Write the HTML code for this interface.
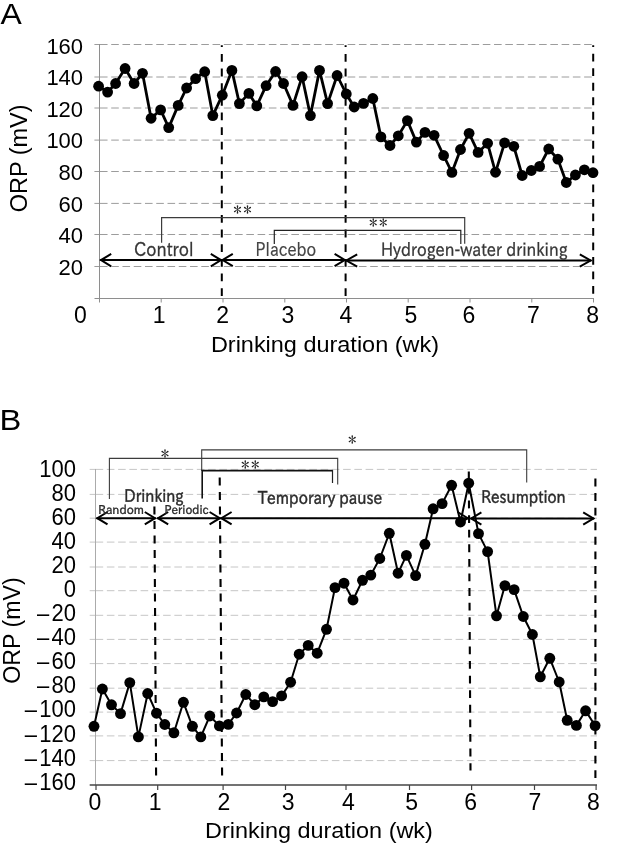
<!DOCTYPE html>
<html lang="en"><head><meta charset="utf-8"><title>ORP vs drinking duration</title>
<style>html,body{margin:0;padding:0;background:#fff}svg{display:block;filter:grayscale(1)}text{white-space:pre}</style></head><body>
<svg width="619" height="843" viewBox="0 0 619 843">
<rect width="619" height="843" fill="#fff"/>
<g id="chartA">
<path d="M94.4,44.5 H100" stroke="#9c9c9c" stroke-width="1" fill="none"/>
<path d="M99.95,44.5 H591.8" stroke="#9c9c9c" stroke-width="1" stroke-dasharray="7.6 3.66" fill="none"/>
<path d="M94.4,77.0 H100" stroke="#9c9c9c" stroke-width="1" fill="none"/>
<path d="M99.95,77.0 H591.8" stroke="#9c9c9c" stroke-width="1" stroke-dasharray="7.6 3.66" fill="none"/>
<path d="M94.4,108.0 H100" stroke="#9c9c9c" stroke-width="1" fill="none"/>
<path d="M99.95,108.0 H591.8" stroke="#9c9c9c" stroke-width="1" stroke-dasharray="7.6 3.66" fill="none"/>
<path d="M94.4,140.1 H100" stroke="#9c9c9c" stroke-width="1" fill="none"/>
<path d="M99.95,140.1 H591.8" stroke="#9c9c9c" stroke-width="1" stroke-dasharray="7.6 3.66" fill="none"/>
<path d="M94.4,171.5 H100" stroke="#9c9c9c" stroke-width="1" fill="none"/>
<path d="M99.95,171.5 H591.8" stroke="#9c9c9c" stroke-width="1" stroke-dasharray="7.6 3.66" fill="none"/>
<path d="M94.4,203.4 H100" stroke="#9c9c9c" stroke-width="1" fill="none"/>
<path d="M99.95,203.4 H591.8" stroke="#9c9c9c" stroke-width="1" stroke-dasharray="7.6 3.66" fill="none"/>
<path d="M94.4,234.5 H100" stroke="#9c9c9c" stroke-width="1" fill="none"/>
<path d="M99.95,234.5 H591.8" stroke="#9c9c9c" stroke-width="1" stroke-dasharray="7.6 3.66" fill="none"/>
<path d="M94.4,266.5 H100" stroke="#9c9c9c" stroke-width="1" fill="none"/>
<path d="M99.95,266.5 H591.8" stroke="#9c9c9c" stroke-width="1" stroke-dasharray="7.6 3.66" fill="none"/>
<path d="M99.5,44 V298.5" stroke="#8e8e8e" stroke-width="1" fill="none"/>
<path d="M94.5,298.5 H594" stroke="#8e8e8e" stroke-width="1" fill="none"/>
<path d="M99.5,298.5 v4" stroke="#8e8e8e" stroke-width="1" fill="none"/>
<path d="M161.2,298.5 v4" stroke="#8e8e8e" stroke-width="1" fill="none"/>
<path d="M223.0,298.5 v4" stroke="#8e8e8e" stroke-width="1" fill="none"/>
<path d="M284.8,298.5 v4" stroke="#8e8e8e" stroke-width="1" fill="none"/>
<path d="M346.5,298.5 v4" stroke="#8e8e8e" stroke-width="1" fill="none"/>
<path d="M408.2,298.5 v4" stroke="#8e8e8e" stroke-width="1" fill="none"/>
<path d="M470.0,298.5 v4" stroke="#8e8e8e" stroke-width="1" fill="none"/>
<path d="M531.8,298.5 v4" stroke="#8e8e8e" stroke-width="1" fill="none"/>
<path d="M593.5,298.5 v4" stroke="#8e8e8e" stroke-width="1" fill="none"/>
<text class="l" x="83.1" y="53.5" font-size="22.3" text-anchor="end" font-family="Liberation Sans, Arial, sans-serif" fill="#000" textLength="36.7" lengthAdjust="spacingAndGlyphs">160</text>
<text class="l" x="83.1" y="85.1" font-size="22.3" text-anchor="end" font-family="Liberation Sans, Arial, sans-serif" fill="#000" textLength="36.7" lengthAdjust="spacingAndGlyphs">140</text>
<text class="l" x="83.1" y="116.7" font-size="22.3" text-anchor="end" font-family="Liberation Sans, Arial, sans-serif" fill="#000" textLength="36.7" lengthAdjust="spacingAndGlyphs">120</text>
<text class="l" x="83.1" y="148.3" font-size="22.3" text-anchor="end" font-family="Liberation Sans, Arial, sans-serif" fill="#000" textLength="36.7" lengthAdjust="spacingAndGlyphs">100</text>
<text class="l" x="83.1" y="179.9" font-size="22.3" text-anchor="end" font-family="Liberation Sans, Arial, sans-serif" fill="#000" textLength="24.5" lengthAdjust="spacingAndGlyphs">80</text>
<text class="l" x="83.1" y="211.5" font-size="22.3" text-anchor="end" font-family="Liberation Sans, Arial, sans-serif" fill="#000" textLength="24.5" lengthAdjust="spacingAndGlyphs">60</text>
<text class="l" x="83.1" y="243.1" font-size="22.3" text-anchor="end" font-family="Liberation Sans, Arial, sans-serif" fill="#000" textLength="24.5" lengthAdjust="spacingAndGlyphs">40</text>
<text class="l" x="83.1" y="274.7" font-size="22.3" text-anchor="end" font-family="Liberation Sans, Arial, sans-serif" fill="#000" textLength="24.5" lengthAdjust="spacingAndGlyphs">20</text>
<text class="l" x="80.4" y="323.3" font-size="23" text-anchor="middle" font-family="Liberation Sans, Arial, sans-serif" fill="#000" >0</text>
<text class="l" x="159.2" y="323.3" font-size="23" text-anchor="middle" font-family="Liberation Sans, Arial, sans-serif" fill="#000" >1</text>
<text class="l" x="222.6" y="323.3" font-size="23" text-anchor="middle" font-family="Liberation Sans, Arial, sans-serif" fill="#000" >2</text>
<text class="l" x="287.9" y="323.3" font-size="23" text-anchor="middle" font-family="Liberation Sans, Arial, sans-serif" fill="#000" >3</text>
<text class="l" x="345.8" y="323.3" font-size="23" text-anchor="middle" font-family="Liberation Sans, Arial, sans-serif" fill="#000" >4</text>
<text class="l" x="410.9" y="323.3" font-size="23" text-anchor="middle" font-family="Liberation Sans, Arial, sans-serif" fill="#000" >5</text>
<text class="l" x="468.8" y="323.3" font-size="23" text-anchor="middle" font-family="Liberation Sans, Arial, sans-serif" fill="#000" >6</text>
<text class="l" x="533.3" y="323.3" font-size="23" text-anchor="middle" font-family="Liberation Sans, Arial, sans-serif" fill="#000" >7</text>
<text class="l" x="592.6" y="323.3" font-size="23" text-anchor="middle" font-family="Liberation Sans, Arial, sans-serif" fill="#000" >8</text>
<text class="l" x="210.9" y="351.8" font-size="22" text-anchor="start" font-family="Liberation Sans, Arial, sans-serif" fill="#000" textLength="228.1" lengthAdjust="spacingAndGlyphs">Drinking duration (wk)</text>
<text class="l" transform="translate(27.2,158.4) rotate(-90)" font-size="23.5" text-anchor="middle" font-family="Liberation Sans, Arial, sans-serif" fill="#000" textLength="107.8" lengthAdjust="spacingAndGlyphs">ORP (mV)</text>
<text class="l" x="0.4" y="23.55" font-size="29.6" text-anchor="start" font-family="Liberation Sans, Arial, sans-serif" fill="#000" textLength="21.3" lengthAdjust="spacingAndGlyphs">A</text>
<path d="M221.8,45.2 L221.8,296.2" stroke="#000" stroke-width="2" stroke-dasharray="7.8 6.84" stroke-dashoffset="5.9" fill="none"/>
<path d="M345.6,45.2 L345.6,296.2" stroke="#000" stroke-width="2" stroke-dasharray="7.8 6.84" stroke-dashoffset="5.9" fill="none"/>
<path d="M593.2,45.2 L593.2,294.2" stroke="#000" stroke-width="2" stroke-dasharray="7.8 6.71" stroke-dashoffset="5.9" fill="none"/>
<path d="M98.6,86.2 L107.6,92.1 L115.6,83.5 L125.1,68.5 L134.1,83.5 L142.5,73.3 L151.1,118.3 L160.6,109.9 L168.7,127.6 L178.2,105.4 L186.6,88.0 L195.6,78.7 L204.7,71.7 L212.8,115.6 L222.3,95.2 L231.9,70.4 L239.4,103.6 L248.9,93.4 L256.8,105.9 L266.1,85.7 L275.6,71.5 L283.5,83.5 L293.0,105.4 L302.1,76.7 L310.4,115.6 L319.5,70.4 L327.6,103.6 L337.1,75.5 L346.3,94.0 L354.2,107.0 L363.5,103.4 L372.8,98.5 L380.9,136.9 L390.0,145.5 L398.3,135.8 L407.4,120.6 L416.4,142.1 L425.0,132.4 L434.1,135.3 L443.6,155.5 L451.9,172.4 L460.5,149.5 L469.1,133.3 L478.1,152.4 L487.6,143.3 L495.5,172.3 L504.6,142.9 L513.8,146.3 L522.2,175.5 L531.3,170.5 L539.6,166.4 L548.7,149.0 L557.9,159.2 L566.3,182.5 L575.4,175.0 L584.4,169.8 L593.0,172.7" fill="none" stroke="#000" stroke-width="2.8" stroke-linejoin="round"/>
<g fill="#000"><circle cx="98.6" cy="86.2" r="5.4"/><circle cx="107.6" cy="92.1" r="5.4"/><circle cx="115.6" cy="83.5" r="5.4"/><circle cx="125.1" cy="68.5" r="5.4"/><circle cx="134.1" cy="83.5" r="5.4"/><circle cx="142.5" cy="73.3" r="5.4"/><circle cx="151.1" cy="118.3" r="5.4"/><circle cx="160.6" cy="109.9" r="5.4"/><circle cx="168.7" cy="127.6" r="5.4"/><circle cx="178.2" cy="105.4" r="5.4"/><circle cx="186.6" cy="88.0" r="5.4"/><circle cx="195.6" cy="78.7" r="5.4"/><circle cx="204.7" cy="71.7" r="5.4"/><circle cx="212.8" cy="115.6" r="5.4"/><circle cx="222.3" cy="95.2" r="5.4"/><circle cx="231.9" cy="70.4" r="5.4"/><circle cx="239.4" cy="103.6" r="5.4"/><circle cx="248.9" cy="93.4" r="5.4"/><circle cx="256.8" cy="105.9" r="5.4"/><circle cx="266.1" cy="85.7" r="5.4"/><circle cx="275.6" cy="71.5" r="5.4"/><circle cx="283.5" cy="83.5" r="5.4"/><circle cx="293.0" cy="105.4" r="5.4"/><circle cx="302.1" cy="76.7" r="5.4"/><circle cx="310.4" cy="115.6" r="5.4"/><circle cx="319.5" cy="70.4" r="5.4"/><circle cx="327.6" cy="103.6" r="5.4"/><circle cx="337.1" cy="75.5" r="5.4"/><circle cx="346.3" cy="94.0" r="5.4"/><circle cx="354.2" cy="107.0" r="5.4"/><circle cx="363.5" cy="103.4" r="5.4"/><circle cx="372.8" cy="98.5" r="5.4"/><circle cx="380.9" cy="136.9" r="5.4"/><circle cx="390.0" cy="145.5" r="5.4"/><circle cx="398.3" cy="135.8" r="5.4"/><circle cx="407.4" cy="120.6" r="5.4"/><circle cx="416.4" cy="142.1" r="5.4"/><circle cx="425.0" cy="132.4" r="5.4"/><circle cx="434.1" cy="135.3" r="5.4"/><circle cx="443.6" cy="155.5" r="5.4"/><circle cx="451.9" cy="172.4" r="5.4"/><circle cx="460.5" cy="149.5" r="5.4"/><circle cx="469.1" cy="133.3" r="5.4"/><circle cx="478.1" cy="152.4" r="5.4"/><circle cx="487.6" cy="143.3" r="5.4"/><circle cx="495.5" cy="172.3" r="5.4"/><circle cx="504.6" cy="142.9" r="5.4"/><circle cx="513.8" cy="146.3" r="5.4"/><circle cx="522.2" cy="175.5" r="5.4"/><circle cx="531.3" cy="170.5" r="5.4"/><circle cx="539.6" cy="166.4" r="5.4"/><circle cx="548.7" cy="149.0" r="5.4"/><circle cx="557.9" cy="159.2" r="5.4"/><circle cx="566.3" cy="182.5" r="5.4"/><circle cx="575.4" cy="175.0" r="5.4"/><circle cx="584.4" cy="169.8" r="5.4"/><circle cx="593.0" cy="172.7" r="5.4"/></g>
<path d="M161.6,242.8 V217.7 H464.7 V243.8" stroke="#3c3c3c" stroke-width="1.2" fill="none"/>
<path d="M274.3,244 V230.4 H460.8 V244" stroke="#222" stroke-width="1.2" fill="none"/>
<path d="M100.2,260.1 L221.8,260.1" stroke="#000" stroke-width="2" fill="none"/>
<path d="M111.2,253.90000000000003 L101.0,260.1 L111.2,266.3" stroke="#000" stroke-width="2" fill="none" stroke-linejoin="miter"/>
<path d="M210.8,253.90000000000003 L221.0,260.1 L210.8,266.3" stroke="#000" stroke-width="2" fill="none" stroke-linejoin="miter"/>
<path d="M221.8,260.0 L345.6,260.0" stroke="#000" stroke-width="2" fill="none"/>
<path d="M232.8,253.8 L222.60000000000002,260.0 L232.8,266.2" stroke="#000" stroke-width="2" fill="none" stroke-linejoin="miter"/>
<path d="M334.6,253.8 L344.8,260.0 L334.6,266.2" stroke="#000" stroke-width="2" fill="none" stroke-linejoin="miter"/>
<path d="M345.6,260.5 L591.4,260.5" stroke="#000" stroke-width="2" fill="none"/>
<path d="M357.20000000000005,254.3 L346.40000000000003,260.5 L357.20000000000005,266.7" stroke="#000" stroke-width="2" fill="none" stroke-linejoin="miter"/>
<path d="M579.8,254.3 L590.6,260.5 L579.8,266.7" stroke="#000" stroke-width="2" fill="none" stroke-linejoin="miter"/>
<text x="134.0" y="255.9" font-size="19.4" text-anchor="start" font-family="IPAPGothic, IPAGothic, sans-serif" fill="#363636" textLength="59.6" lengthAdjust="spacingAndGlyphs" stroke="#363636" stroke-width="0.3">Control</text>
<text x="255.6" y="255.9" font-size="19.4" text-anchor="start" font-family="IPAPGothic, IPAGothic, sans-serif" fill="#444" textLength="60.7" lengthAdjust="spacingAndGlyphs" stroke="#444" stroke-width="0.2">Placebo</text>
<text x="381.0" y="256.4" font-size="18.6" text-anchor="start" font-family="IPAPGothic, IPAGothic, sans-serif" fill="#363636" textLength="186.6" lengthAdjust="spacingAndGlyphs" stroke="#363636" stroke-width="0.3">Hydrogen-water drinking</text>
<text x="233.2 243.3" y="216" font-size="17" font-family="IPAGothic, IPAPGothic, sans-serif" fill="#222">**</text>
<text x="369.0 379.1" y="229.4" font-size="17" font-family="IPAGothic, IPAPGothic, sans-serif" fill="#222">**</text>
</g>
<g id="chartB">
<path d="M89.7,469.4 H96" stroke="#c6c6c6" stroke-width="1" fill="none"/>
<path d="M95.6,469.4 H597" stroke="#c6c6c6" stroke-width="1" stroke-dasharray="7.6 3.65" fill="none"/>
<path d="M89.7,494.4 H96" stroke="#c6c6c6" stroke-width="1" fill="none"/>
<path d="M95.6,494.4 H597" stroke="#c6c6c6" stroke-width="1" stroke-dasharray="7.6 3.65" fill="none"/>
<path d="M89.7,518.2 H96" stroke="#c6c6c6" stroke-width="1" fill="none"/>
<path d="M95.6,518.2 H597" stroke="#c6c6c6" stroke-width="1" stroke-dasharray="7.6 3.65" fill="none"/>
<path d="M89.7,542.1 H96" stroke="#c6c6c6" stroke-width="1" fill="none"/>
<path d="M95.6,542.1 H597" stroke="#c6c6c6" stroke-width="1" stroke-dasharray="7.6 3.65" fill="none"/>
<path d="M89.7,567.0 H96" stroke="#c6c6c6" stroke-width="1" fill="none"/>
<path d="M95.6,567.0 H597" stroke="#c6c6c6" stroke-width="1" stroke-dasharray="7.6 3.65" fill="none"/>
<path d="M89.7,590.7 H96" stroke="#c6c6c6" stroke-width="1" fill="none"/>
<path d="M95.6,590.7 H597" stroke="#c6c6c6" stroke-width="1" stroke-dasharray="7.6 3.65" fill="none"/>
<path d="M89.7,615.3 H96" stroke="#c6c6c6" stroke-width="1" fill="none"/>
<path d="M95.6,615.3 H597" stroke="#c6c6c6" stroke-width="1" stroke-dasharray="7.6 3.65" fill="none"/>
<path d="M89.7,639.4 H96" stroke="#c6c6c6" stroke-width="1" fill="none"/>
<path d="M95.6,639.4 H597" stroke="#c6c6c6" stroke-width="1" stroke-dasharray="7.6 3.65" fill="none"/>
<path d="M89.7,663.6 H96" stroke="#c6c6c6" stroke-width="1" fill="none"/>
<path d="M95.6,663.6 H597" stroke="#c6c6c6" stroke-width="1" stroke-dasharray="7.6 3.65" fill="none"/>
<path d="M89.7,688.2 H96" stroke="#c6c6c6" stroke-width="1" fill="none"/>
<path d="M95.6,688.2 H597" stroke="#c6c6c6" stroke-width="1" stroke-dasharray="7.6 3.65" fill="none"/>
<path d="M89.7,712.1 H96" stroke="#c6c6c6" stroke-width="1" fill="none"/>
<path d="M95.6,712.1 H597" stroke="#c6c6c6" stroke-width="1" stroke-dasharray="7.6 3.65" fill="none"/>
<path d="M89.7,735.9 H96" stroke="#c6c6c6" stroke-width="1" fill="none"/>
<path d="M95.6,735.9 H597" stroke="#c6c6c6" stroke-width="1" stroke-dasharray="7.6 3.65" fill="none"/>
<path d="M89.7,760.6 H96" stroke="#c6c6c6" stroke-width="1" fill="none"/>
<path d="M95.6,760.6 H597" stroke="#c6c6c6" stroke-width="1" stroke-dasharray="7.6 3.65" fill="none"/>
<path d="M95.5,469 V785" stroke="#ababab" stroke-width="1" fill="none"/>
<path d="M89.7,785 H597" stroke="#444" stroke-width="1.4" fill="none"/>
<path d="M96.0,785 v5" stroke="#444" stroke-width="1.2" fill="none"/>
<path d="M157.7,785 v5" stroke="#444" stroke-width="1.2" fill="none"/>
<path d="M223.1,785 v5" stroke="#444" stroke-width="1.2" fill="none"/>
<path d="M285.5,785 v5" stroke="#444" stroke-width="1.2" fill="none"/>
<path d="M346.0,785 v5" stroke="#444" stroke-width="1.2" fill="none"/>
<path d="M409.5,785 v5" stroke="#444" stroke-width="1.2" fill="none"/>
<path d="M471.6,785 v5" stroke="#444" stroke-width="1.2" fill="none"/>
<path d="M534.5,785 v5" stroke="#444" stroke-width="1.2" fill="none"/>
<path d="M596.1,785 v5" stroke="#444" stroke-width="1.2" fill="none"/>
<text class="l" transform="translate(75.9,476.75) scale(0.887,1)" font-size="24.8" text-anchor="end" font-family="Liberation Sans, Arial, sans-serif" fill="#000">100</text>
<text class="l" transform="translate(75.9,500.82) scale(0.887,1)" font-size="24.8" text-anchor="end" font-family="Liberation Sans, Arial, sans-serif" fill="#000">80</text>
<text class="l" transform="translate(75.9,524.89) scale(0.887,1)" font-size="24.8" text-anchor="end" font-family="Liberation Sans, Arial, sans-serif" fill="#000">60</text>
<text class="l" transform="translate(75.9,548.96) scale(0.887,1)" font-size="24.8" text-anchor="end" font-family="Liberation Sans, Arial, sans-serif" fill="#000">40</text>
<text class="l" transform="translate(75.9,573.03) scale(0.887,1)" font-size="24.8" text-anchor="end" font-family="Liberation Sans, Arial, sans-serif" fill="#000">20</text>
<text class="l" transform="translate(75.9,597.10) scale(0.887,1)" font-size="24.8" text-anchor="end" font-family="Liberation Sans, Arial, sans-serif" fill="#000">0</text>
<text class="l" transform="translate(75.9,621.17) scale(0.887,1)" font-size="24.8" text-anchor="end" font-family="Liberation Sans, Arial, sans-serif" fill="#000" dx="0 2.5">–20</text>
<text class="l" transform="translate(75.9,645.24) scale(0.887,1)" font-size="24.8" text-anchor="end" font-family="Liberation Sans, Arial, sans-serif" fill="#000" dx="0 2.5">–40</text>
<text class="l" transform="translate(75.9,669.31) scale(0.887,1)" font-size="24.8" text-anchor="end" font-family="Liberation Sans, Arial, sans-serif" fill="#000" dx="0 2.5">–60</text>
<text class="l" transform="translate(75.9,693.38) scale(0.887,1)" font-size="24.8" text-anchor="end" font-family="Liberation Sans, Arial, sans-serif" fill="#000" dx="0 2.5">–80</text>
<text class="l" transform="translate(75.9,717.45) scale(0.887,1)" font-size="24.8" text-anchor="end" font-family="Liberation Sans, Arial, sans-serif" fill="#000" dx="0 2.5">–100</text>
<text class="l" transform="translate(75.9,741.52) scale(0.887,1)" font-size="24.8" text-anchor="end" font-family="Liberation Sans, Arial, sans-serif" fill="#000" dx="0 2.5">–120</text>
<text class="l" transform="translate(75.9,765.59) scale(0.887,1)" font-size="24.8" text-anchor="end" font-family="Liberation Sans, Arial, sans-serif" fill="#000" dx="0 2.5">–140</text>
<text class="l" transform="translate(75.9,789.66) scale(0.887,1)" font-size="24.8" text-anchor="end" font-family="Liberation Sans, Arial, sans-serif" fill="#000" dx="0 2.5">–160</text>
<text class="l" x="94.9" y="809.6" font-size="23" text-anchor="middle" font-family="Liberation Sans, Arial, sans-serif" fill="#000" >0</text>
<text class="l" x="155.2" y="809.6" font-size="23" text-anchor="middle" font-family="Liberation Sans, Arial, sans-serif" fill="#000" >1</text>
<text class="l" x="223.9" y="809.6" font-size="23" text-anchor="middle" font-family="Liberation Sans, Arial, sans-serif" fill="#000" >2</text>
<text class="l" x="288.1" y="809.6" font-size="23" text-anchor="middle" font-family="Liberation Sans, Arial, sans-serif" fill="#000" >3</text>
<text class="l" x="348.3" y="809.6" font-size="23" text-anchor="middle" font-family="Liberation Sans, Arial, sans-serif" fill="#000" >4</text>
<text class="l" x="411.7" y="809.6" font-size="23" text-anchor="middle" font-family="Liberation Sans, Arial, sans-serif" fill="#000" >5</text>
<text class="l" x="470.6" y="809.6" font-size="23" text-anchor="middle" font-family="Liberation Sans, Arial, sans-serif" fill="#000" >6</text>
<text class="l" x="534.8" y="809.6" font-size="23" text-anchor="middle" font-family="Liberation Sans, Arial, sans-serif" fill="#000" >7</text>
<text class="l" x="593.5" y="809.6" font-size="23" text-anchor="middle" font-family="Liberation Sans, Arial, sans-serif" fill="#000" >8</text>
<text class="l" x="205.0" y="838.2" font-size="22" text-anchor="start" font-family="Liberation Sans, Arial, sans-serif" fill="#000" textLength="227.9" lengthAdjust="spacingAndGlyphs">Drinking duration (wk)</text>
<text class="l" transform="translate(20.4,630.5) rotate(-90)" font-size="23.5" text-anchor="middle" font-family="Liberation Sans, Arial, sans-serif" fill="#000" textLength="106.4" lengthAdjust="spacingAndGlyphs">ORP (mV)</text>
<text class="l" x="-0.5" y="430" font-size="29.5" text-anchor="start" font-family="Liberation Sans, Arial, sans-serif" fill="#000" textLength="21.8" lengthAdjust="spacingAndGlyphs">B</text>
<path d="M154.4,506.6 L156.1,775.6" stroke="#000" stroke-width="2.1" stroke-dasharray="7.8 6.7" stroke-dashoffset="0" fill="none"/>
<path d="M219.7,477.6 L222.1,775.6" stroke="#000" stroke-width="2.1" stroke-dasharray="7.8 6.7" stroke-dashoffset="0" fill="none"/>
<path d="M468.8,471.4 L470.5,770.5" stroke="#000" stroke-width="2.1" stroke-dasharray="7.8 6.79" stroke-dashoffset="0" fill="none"/>
<path d="M595.4,478.5 L595.4,778" stroke="#000" stroke-width="2.1" stroke-dasharray="7.9 6.69" stroke-dashoffset="0" fill="none"/>
<path d="M94.0,726.3 L102.4,689.0 L111.5,704.8 L120.5,713.6 L129.8,682.6 L138.4,736.9 L147.7,693.5 L156.5,713.2 L164.8,724.5 L173.9,732.8 L183.4,702.3 L192.4,726.3 L200.8,736.9 L209.8,716.0 L219.4,725.9 L228.3,724.4 L236.6,713.0 L245.8,694.5 L254.8,704.7 L263.8,696.9 L272.6,701.6 L281.6,695.9 L290.6,682.2 L299.2,654.2 L308.2,645.4 L317.2,653.2 L326.5,629.3 L335.0,587.6 L344.0,583.2 L353.0,600.0 L362.5,580.3 L370.8,575.1 L379.8,558.5 L389.3,533.3 L398.1,573.2 L406.4,555.4 L415.6,575.6 L424.9,544.3 L433.1,508.8 L442.1,503.6 L451.6,485.3 L460.5,522.0 L468.7,483.2 L478.5,533.6 L487.6,551.6 L496.5,615.8 L504.9,585.6 L514.1,589.6 L523.3,616.5 L532.4,634.5 L540.3,676.8 L549.8,658.3 L559.2,682.0 L567.2,720.3 L576.4,725.4 L585.6,710.8 L595.1,725.6" fill="none" stroke="#000" stroke-width="2.0" stroke-linejoin="round"/>
<g fill="#000"><circle cx="94.0" cy="726.3" r="5.45"/><circle cx="102.4" cy="689.0" r="5.45"/><circle cx="111.5" cy="704.8" r="5.45"/><circle cx="120.5" cy="713.6" r="5.45"/><circle cx="129.8" cy="682.6" r="5.45"/><circle cx="138.4" cy="736.9" r="5.45"/><circle cx="147.7" cy="693.5" r="5.45"/><circle cx="156.5" cy="713.2" r="5.45"/><circle cx="164.8" cy="724.5" r="5.45"/><circle cx="173.9" cy="732.8" r="5.45"/><circle cx="183.4" cy="702.3" r="5.45"/><circle cx="192.4" cy="726.3" r="5.45"/><circle cx="200.8" cy="736.9" r="5.45"/><circle cx="209.8" cy="716.0" r="5.45"/><circle cx="219.4" cy="725.9" r="5.45"/><circle cx="228.3" cy="724.4" r="5.45"/><circle cx="236.6" cy="713.0" r="5.45"/><circle cx="245.8" cy="694.5" r="5.45"/><circle cx="254.8" cy="704.7" r="5.45"/><circle cx="263.8" cy="696.9" r="5.45"/><circle cx="272.6" cy="701.6" r="5.45"/><circle cx="281.6" cy="695.9" r="5.45"/><circle cx="290.6" cy="682.2" r="5.45"/><circle cx="299.2" cy="654.2" r="5.45"/><circle cx="308.2" cy="645.4" r="5.45"/><circle cx="317.2" cy="653.2" r="5.45"/><circle cx="326.5" cy="629.3" r="5.45"/><circle cx="335.0" cy="587.6" r="5.45"/><circle cx="344.0" cy="583.2" r="5.45"/><circle cx="353.0" cy="600.0" r="5.45"/><circle cx="362.5" cy="580.3" r="5.45"/><circle cx="370.8" cy="575.1" r="5.45"/><circle cx="379.8" cy="558.5" r="5.45"/><circle cx="389.3" cy="533.3" r="5.45"/><circle cx="398.1" cy="573.2" r="5.45"/><circle cx="406.4" cy="555.4" r="5.45"/><circle cx="415.6" cy="575.6" r="5.45"/><circle cx="424.9" cy="544.3" r="5.45"/><circle cx="433.1" cy="508.8" r="5.45"/><circle cx="442.1" cy="503.6" r="5.45"/><circle cx="451.6" cy="485.3" r="5.45"/><circle cx="460.5" cy="522.0" r="5.45"/><circle cx="468.7" cy="483.2" r="5.45"/><circle cx="478.5" cy="533.6" r="5.45"/><circle cx="487.6" cy="551.6" r="5.45"/><circle cx="496.5" cy="615.8" r="5.45"/><circle cx="504.9" cy="585.6" r="5.45"/><circle cx="514.1" cy="589.6" r="5.45"/><circle cx="523.3" cy="616.5" r="5.45"/><circle cx="532.4" cy="634.5" r="5.45"/><circle cx="540.3" cy="676.8" r="5.45"/><circle cx="549.8" cy="658.3" r="5.45"/><circle cx="559.2" cy="682.0" r="5.45"/><circle cx="567.2" cy="720.3" r="5.45"/><circle cx="576.4" cy="725.4" r="5.45"/><circle cx="585.6" cy="710.8" r="5.45"/><circle cx="595.1" cy="725.6" r="5.45"/></g>
<path d="M109.4,499 V458.4 H337.7 V484.5" stroke="#3c3c3c" stroke-width="1.1" fill="none"/>
<path d="M201.7,471 V449.9 H526.7 V482.5" stroke="#3c3c3c" stroke-width="1.1" fill="none"/>
<path d="M202.2,498.4 V470.6 H332.6" stroke="#111" stroke-width="1.6" fill="none"/>
<path d="M332.5,470 V483" stroke="#222" stroke-width="1.2" fill="none"/>
<path d="M96.5,518.2 L155.8,518.2" stroke="#000" stroke-width="2" fill="none"/>
<path d="M107.5,512.0 L97.3,518.2 L107.5,524.4000000000001" stroke="#000" stroke-width="2" fill="none" stroke-linejoin="miter"/>
<path d="M144.8,512.0 L155.0,518.2 L144.8,524.4000000000001" stroke="#000" stroke-width="2" fill="none" stroke-linejoin="miter"/>
<path d="M157.2,518.2 L220.6,518.2" stroke="#000" stroke-width="2" fill="none"/>
<path d="M168.2,512.0 L158.0,518.2 L168.2,524.4000000000001" stroke="#000" stroke-width="2" fill="none" stroke-linejoin="miter"/>
<path d="M209.6,512.0 L219.79999999999998,518.2 L209.6,524.4000000000001" stroke="#000" stroke-width="2" fill="none" stroke-linejoin="miter"/>
<path d="M220.6,518.2 L468.6,518.2" stroke="#000" stroke-width="2" fill="none"/>
<path d="M231.6,512.0 L221.4,518.2 L231.6,524.4000000000001" stroke="#000" stroke-width="2" fill="none" stroke-linejoin="miter"/>
<path d="M457.6,512.0 L467.8,518.2 L457.6,524.4000000000001" stroke="#000" stroke-width="2" fill="none" stroke-linejoin="miter"/>
<path d="M470.4,518.5 L594.2,518.5" stroke="#000" stroke-width="2" fill="none"/>
<path d="M481.4,512.3 L471.2,518.5 L481.4,524.7" stroke="#000" stroke-width="2" fill="none" stroke-linejoin="miter"/>
<path d="M583.2,512.3 L593.4000000000001,518.5 L583.2,524.7" stroke="#000" stroke-width="2" fill="none" stroke-linejoin="miter"/>
<text x="124.3" y="502.4" font-size="17.6" text-anchor="start" font-family="IPAPGothic, IPAGothic, sans-serif" fill="#2a2a2a" textLength="59.4" lengthAdjust="spacingAndGlyphs" stroke="#2a2a2a" stroke-width="0.45">Drinking</text>
<text x="98.3" y="513.9" font-size="12.3" text-anchor="start" font-family="IPAPGothic, IPAGothic, sans-serif" fill="#2a2a2a" textLength="45.7" lengthAdjust="spacingAndGlyphs" stroke="#2a2a2a" stroke-width="0.35">Random</text>
<text x="164.5" y="513.9" font-size="12.3" text-anchor="start" font-family="IPAPGothic, IPAGothic, sans-serif" fill="#2a2a2a" textLength="44.2" lengthAdjust="spacingAndGlyphs" stroke="#2a2a2a" stroke-width="0.35">Periodic</text>
<text x="257.9" y="504.2" font-size="17.9" text-anchor="start" font-family="IPAPGothic, IPAGothic, sans-serif" fill="#2a2a2a" textLength="124.4" lengthAdjust="spacingAndGlyphs" stroke="#2a2a2a" stroke-width="0.45">Temporary pause</text>
<text x="481.2" y="502.8" font-size="17.6" text-anchor="start" font-family="IPAPGothic, IPAGothic, sans-serif" fill="#2a2a2a" textLength="84.5" lengthAdjust="spacingAndGlyphs" stroke="#2a2a2a" stroke-width="0.45">Resumption</text>
<text x="160.7" y="460.1" font-size="17" font-family="IPAGothic, IPAPGothic, sans-serif" fill="#222">*</text>
<text x="241.0 251.1" y="471.4" font-size="17" font-family="IPAGothic, IPAPGothic, sans-serif" fill="#222">**</text>
<text x="348.1" y="446.2" font-size="17" font-family="IPAGothic, IPAPGothic, sans-serif" fill="#222">*</text>
</g>
</svg></body></html>
